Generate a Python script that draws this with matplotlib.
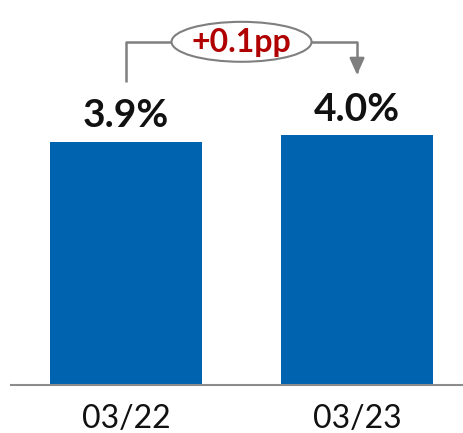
import matplotlib.pyplot as plt
from matplotlib.patches import Ellipse

periods = ["03/22", "03/23"]
rates = [3.9, 4.0]
value_labels = ["3.9%", "4.0%"]
change_label = "+0.1pp"

blue = "#0063AF"
grey = "#7F7F7F"
red = "#B00000"

fig = plt.figure(figsize=(4.64, 4.33), dpi=100)
ax = fig.add_axes([11 / 464, 48 / 433, 453 / 464, 385 / 433])

x = list(range(len(periods)))
ax.bar(x, rates, width=0.658, color=blue, zorder=2)

for xi, v, lab in zip(x, rates, value_labels):
    ax.text(xi, v + 0.23, lab, ha="center", va="baseline",
            fontsize=28, fontweight="bold", family="Lato", color="#111111")

ax.set_xlim(-0.498, 1.463)
ax.set_ylim(0, 6.17)

# bracket showing the change between the two periods
top = 5.5
ax.plot([x[0], x[0], 0.2], [rates[0] + 0.96, top, top], color=grey, lw=1.8,
        solid_capstyle="butt", zorder=3)
ax.annotate("", xy=(x[1], rates[1] + 0.97), xytext=(0.8, top),
            arrowprops=dict(arrowstyle="-|>,head_length=1.0,head_width=0.45",
                            connectionstyle="angle,angleA=0,angleB=90,rad=0",
                            color=grey, lw=1.8, shrinkA=0, shrinkB=0))
ax.add_patch(Ellipse((0.5, top), 0.606, 0.64, facecolor="white",
                     edgecolor=grey, lw=1.5, zorder=4))
ax.text(0.5, top - 0.01, change_label, ha="center", va="center", fontsize=23,
        fontweight="bold", family="Lato", color=red, zorder=5)

ax.set_xticks(x)
ax.set_xticklabels(periods, fontsize=23, family="Lato", color="#111111")
ax.tick_params(axis="x", length=0, pad=14)
ax.set_yticks([])
for side in ["top", "right", "left"]:
    ax.spines[side].set_visible(False)
ax.spines["bottom"].set_color("#8C8C8C")
ax.spines["bottom"].set_linewidth(1.5)
ax.patch.set_alpha(0)

fig.savefig("out.png", dpi=100)
